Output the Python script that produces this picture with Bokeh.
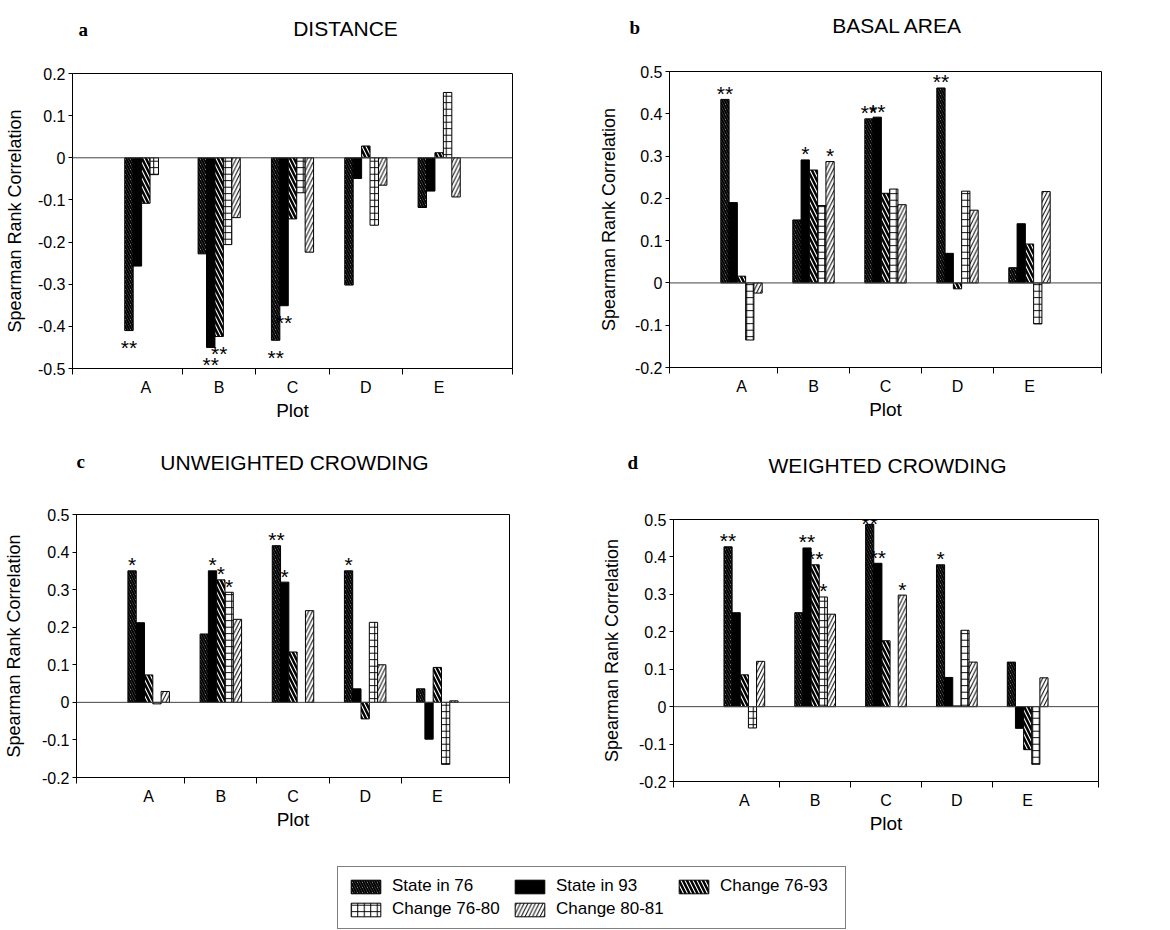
import numpy as np
from bokeh.plotting import figure
from bokeh.models import (ColumnDataSource, Span, FixedTicker, CustomJSTickFormatter,
                          Legend, LegendItem, Range1d)
from bokeh.core.properties import value
from bokeh.layouts import column, row
from bokeh.embed import file_html
from bokeh.resources import INLINE

# ---------------- data ----------------
plots = ["A", "B", "C", "D", "E"]
series = ["State in 76", "State in 93", "Change 76-93", "Change 76-80", "Change 80-81"]

# rows follow `series`, columns follow `plots`; None = no bar
distance = [
    [-0.410, -0.228, -0.433, -0.302, -0.118],
    [-0.257, -0.450, -0.351, -0.049, -0.079],
    [-0.108, -0.424, -0.145, 0.028, 0.012],
    [-0.040, -0.206, -0.083, -0.160, 0.155],
    [None, -0.142, -0.224, -0.065, -0.093],
]
distance_sig = [
    ["**", "", "**", "", ""],
    ["", "**", "**", "", ""],
    ["", "**", "", "", ""],
    ["", "", "", "", ""],
    ["", "", "", "", ""],
]

basal_area = [
    [0.434, 0.149, 0.388, 0.461, 0.036],
    [0.190, 0.291, 0.392, 0.070, 0.140],
    [0.016, 0.267, 0.212, -0.014, 0.092],
    [-0.135, 0.183, 0.222, 0.217, -0.097],
    [-0.024, 0.287, 0.185, 0.172, 0.216],
]
basal_area_sig = [
    ["**", "", "**", "**", ""],
    ["", "*", "**", "", ""],
    ["", "", "", "", ""],
    ["", "", "", "", ""],
    ["", "*", "", "", ""],
]

unweighted = [
    [0.350, 0.182, 0.417, 0.350, 0.036],
    [0.212, 0.350, 0.320, 0.036, -0.098],
    [0.073, 0.326, 0.134, -0.044, 0.093],
    [-0.004, 0.293, None, 0.213, -0.165],
    [0.029, 0.221, 0.244, 0.100, 0.004],
]
unweighted_sig = [
    ["*", "", "**", "*", ""],
    ["", "*", "*", "", ""],
    ["", "*", "", "", ""],
    ["", "*", "", "", ""],
    ["", "", "", "", ""],
]

weighted = [
    [0.427, 0.251, 0.487, 0.379, 0.119],
    [0.251, 0.424, 0.383, 0.078, -0.058],
    [0.085, 0.379, 0.176, 0.002, -0.115],
    [-0.057, 0.293, None, 0.204, -0.154],
    [0.121, 0.247, 0.298, 0.119, 0.077],
]
weighted_sig = [
    ["**", "", "**", "*", ""],
    ["", "**", "**", "", ""],
    ["", "**", "", "", ""],
    ["", "*", "", "", ""],
    ["", "", "*", "", ""],
]

ticks_neg = [-0.5, -0.4, -0.3, -0.2, -0.1, 0.0, 0.1, 0.2]
ticks_pos = [-0.2, -0.1, 0.0, 0.1, 0.2, 0.3, 0.4, 0.5]

panel_titles = ["DISTANCE", "BASAL AREA", "UNWEIGHTED CROWDING", "WEIGHTED CROWDING"]
panel_letters = ["a", "b", "c", "d"]

# ---------------- styles ----------------
SANS = "Liberation Sans"
BAR_W = 0.115
styles = [
    dict(fill_color="#c4c4c4", hatch_pattern="\\", hatch_scale=5, hatch_weight=2.0, hatch_color="black"),
    dict(fill_color="black"),
    dict(fill_color="white", hatch_pattern="\\", hatch_scale=8, hatch_weight=2.5, hatch_color="black"),
    dict(fill_color="white", hatch_pattern="+", hatch_scale=6.5, hatch_weight=1.0, hatch_color="black"),
    dict(fill_color="white", hatch_pattern="/", hatch_scale=7.5, hatch_weight=1.0, hatch_color="black"),
]


def blank_fig(w, h):
    f = figure(width=w, height=h, x_range=Range1d(0, w), y_range=Range1d(h, 0),
               output_backend="svg", toolbar_location=None,
               min_border_left=0, min_border_right=0, min_border_top=0, min_border_bottom=0)
    f.axis.visible = False
    f.grid.visible = False
    f.outline_line_color = None
    return f


def make_header(w, h, titles, letters, tx, ty, lx, ly):
    f = blank_fig(w, h)
    f.text(x=tx, y=ty, text=titles, text_align="center", text_baseline="alphabetic",
           text_font=value(SANS), text_font_size="21px", text_color="black")
    f.text(x=lx, y=ly, text=letters, text_align="left", text_baseline="alphabetic",
           text_font=value("Liberation Serif"), text_font_style="bold",
           text_font_size="19px", text_color="black")
    return f


def make_panel(vals, sig, ticks, w, h, bl, br, bt, bb, ylab_standoff):
    p = figure(width=w, height=h, x_range=Range1d(0, 6), y_range=Range1d(ticks[0], ticks[-1]),
               output_backend="svg", toolbar_location=None,
               min_border_left=bl, min_border_right=br, min_border_top=bt, min_border_bottom=bb)
    p.grid.visible = False
    p.outline_line_color = "black"
    p.outline_line_width = 1

    p.add_layout(Span(location=0, dimension="width", line_color="#444444", line_width=1))

    for k, s in enumerate(series):
        xs, tops = [], []
        for i in range(len(plots)):
            v = vals[k][i]
            xs.append(i + 1 + (k - 2) * BAR_W)
            tops.append(np.nan if v is None else v)
        src = ColumnDataSource(dict(x=xs, top=tops, bottom=[0.0] * len(xs)))
        p.vbar(x="x", top="top", bottom="bottom", width=BAR_W, source=src,
               line_color="black", line_width=1, **styles[k])

        st = dict(x=[], y=[], t=[], off=[])
        for i in range(len(plots)):
            if sig[k][i]:
                v = vals[k][i]
                st["x"].append(xs[i])
                st["y"].append(v)
                st["t"].append(sig[k][i])
                if v < 0:
                    st["off"].append(17)
                elif v > ticks[-1] - 0.03:
                    st["off"].append(-1)   # keep stars inside the frame near the top
                else:
                    st["off"].append(-6)
        if st["x"]:
            p.text(x="x", y="y", text="t", source=ColumnDataSource(st), text_align="center",
                   text_baseline="alphabetic", text_font=value(SANS), text_font_size="21px",
                   text_color="black", y_offset="off")

    # x axis
    xa = p.xaxis[0]
    xa.ticker = FixedTicker(ticks=[1, 2, 3, 4, 5], minor_ticks=[0, 1.5, 2.5, 3.5, 4.5, 6])
    xa.formatter = CustomJSTickFormatter(
        args=dict(labels=plots),
        code="const i = Math.round(tick) - 1; return (i >= 0 && i < labels.length) ? labels[i] : '';")
    xa.major_tick_line_color = None
    xa.major_tick_out = 5
    xa.major_tick_in = 0
    xa.minor_tick_out = 6
    xa.minor_tick_in = 0
    xa.minor_tick_line_color = "black"
    xa.axis_line_color = "black"
    xa.major_label_standoff = 4
    xa.major_label_text_font = SANS
    xa.major_label_text_font_size = "16px"
    xa.major_label_text_color = "black"
    xa.axis_label = "Plot"
    xa.axis_label_text_font = SANS
    xa.axis_label_text_font_size = "19px"
    xa.axis_label_text_font_style = "normal"
    xa.axis_label_text_color = "black"
    xa.axis_label_standoff = 1

    # y axis
    ya = p.yaxis[0]
    ya.ticker = FixedTicker(ticks=ticks, minor_ticks=[])
    ya.formatter = CustomJSTickFormatter(code="return Math.abs(tick) < 1e-9 ? '0' : tick.toFixed(1);")
    ya.major_tick_out = 4
    ya.major_tick_in = 0
    ya.major_tick_line_color = "black"
    ya.minor_tick_line_color = None
    ya.axis_line_color = "black"
    ya.major_label_standoff = 3
    ya.major_label_text_font = SANS
    ya.major_label_text_font_size = "16px"
    ya.major_label_text_color = "black"
    ya.axis_label = "Spearman Rank Correlation"
    ya.axis_label_text_font = SANS
    ya.axis_label_text_font_size = "18px"
    ya.axis_label_text_font_style = "normal"
    ya.axis_label_text_color = "black"
    ya.axis_label_standoff = ylab_standoff
    return p


h1 = make_header(1170, 40, panel_titles[0:2], panel_letters[0:2],
                 [345, 897], [28, 25], [78, 629], [29, 27])
pa = make_panel(distance, distance_sig, ticks_neg, 580, 386, 72, 68, 33, 58, 10)
pb = make_panel(basal_area, basal_area_sig, ticks_pos, 590, 386, 89, 69, 31, 59, 13)

h2 = make_header(1170, 54, panel_titles[2:4], panel_letters[2:4],
                 [294, 887], [36, 39], [76, 627], [35, 36])
pc = make_panel(unweighted, unweighted_sig, ticks_pos, 580, 368, 76, 71, 34, 71, 15)
pd_ = make_panel(weighted, weighted_sig, ticks_pos, 590, 368, 93, 72, 39, 67, 14)

# ---------------- legend ----------------
pl = blank_fig(1170, 82)
items = []
for k, s in enumerate(series):
    src = ColumnDataSource(dict(x=[i + 1 for i in range(len(plots))],
                                top=[np.nan if v is None else v for v in distance[k]]))
    r = pl.vbar(x="x", top="top", bottom=0, width=BAR_W, source=src,
                line_color="black", line_width=1, **styles[k])
    r.visible = False
    items.append(LegendItem(label=s, renderers=[r]))
legend = Legend(items=items, location=(337, 1), orientation="horizontal", ncols=3,
                glyph_width=37, glyph_height=17, label_width=116, label_height=17,
                label_standoff=8, spacing=3, padding=9, margin=0,
                label_text_font=SANS, label_text_font_size="17px", label_text_color="black",
                border_line_color="black", border_line_width=1, background_fill_color="white",
                background_fill_alpha=1.0)
pl.add_layout(legend, "center")

layout = column(
    row(column(h1)),
    row(column(pa), column(pb)),
    row(column(h2)),
    row(column(pc), column(pd_)),
    row(column(pl)),
)

html = file_html(layout, INLINE)
open("out.html", "w").write(html)
